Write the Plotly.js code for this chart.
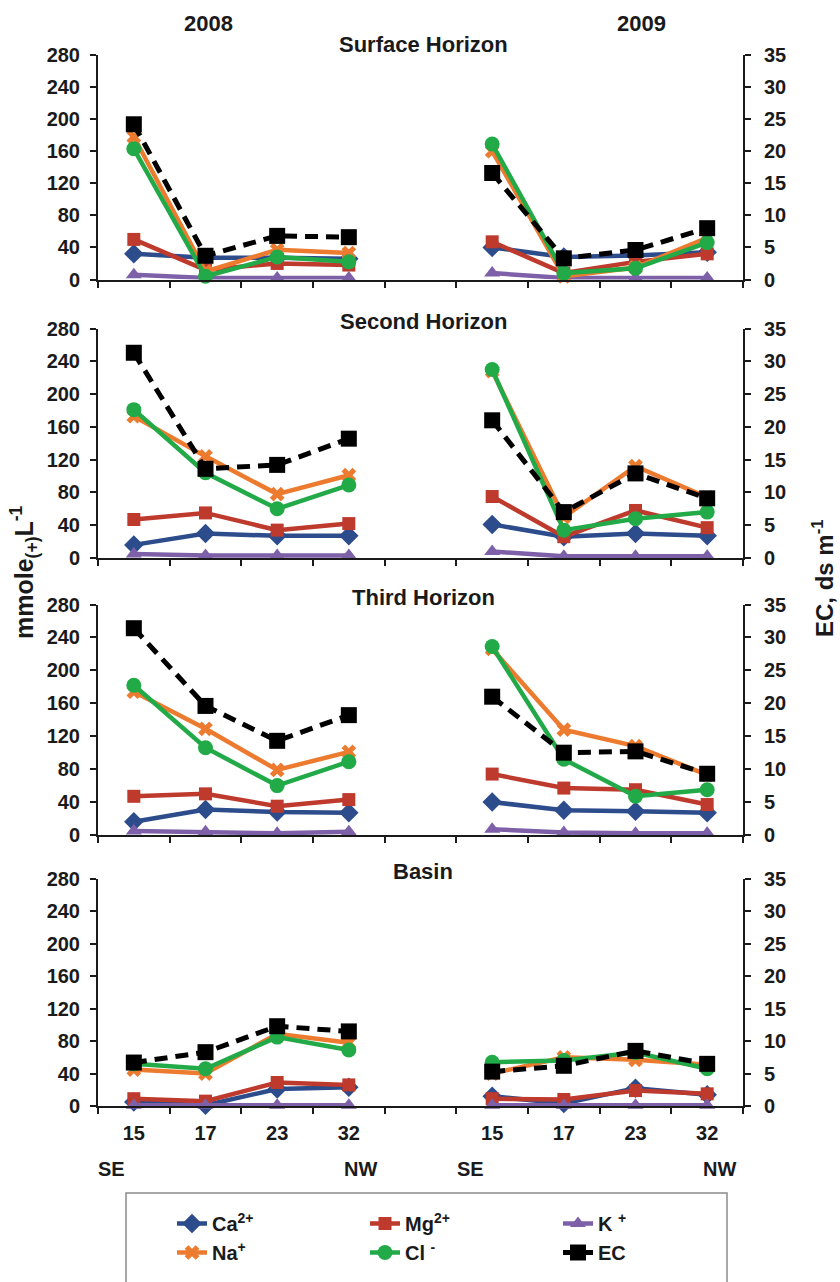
<!DOCTYPE html>
<html>
<head>
<meta charset="utf-8">
<script src="https://cdn.plot.ly/plotly-3.0.1.min.js"></script>
<style>html,body{margin:0;padding:0;background:#fff;}#chart{width:840px;height:1282px;}</style>
</head>
<body>
<div id="chart"></div>
<script>
// ---------------- DATA ----------------
const sites = ['15', '17', '23', '32'];
const years = ['2008', '2009'];
const horizons = ['Surface Horizon', 'Second Horizon', 'Third Horizon', 'Basin'];
const seriesNames = ['Ca<sup>2+</sup>', 'Mg<sup>2+</sup>', 'K <sup>+</sup>', 'Na<sup>+</sup>', 'Cl <sup>-</sup>', 'EC'];
const directionLabels = ['SE', 'NW'];

// values: 4 sites of 2008 followed by 4 sites of 2009 (ions in mmole(+)/L, EC in dS/m)
const caSurface = [32, 27, 27, 26, 40, 28, 30, 34];
const mgSurface = [50, 12, 20, 18, 47, 8, 22, 32];
const kSurface  = [6, 2, 2, 2, 8, 2, 2, 2];
const naSurface = [178, 10, 37, 33, 160, 4, 15, 52];
const clSurface = [163, 4, 28, 22, 169, 8, 14, 46];
const ecSurface = [24.2, 3.7, 6.8, 6.6, 16.6, 3.3, 4.6, 8.0];

const caSecond = [16, 30, 27, 27, 41, 26, 30, 27];
const mgSecond = [47, 55, 34, 42, 75, 26, 58, 37];
const kSecond  = [5, 3, 3, 3, 8, 2, 2, 2];
const naSecond = [173, 124, 78, 101, 228, 50, 112, 74];
const clSecond = [181, 104, 60, 89, 230, 34, 48, 56];
const ecSecond = [31.3, 13.6, 14.2, 18.2, 21.0, 7.0, 12.9, 9.1];

const caThird = [16, 31, 28, 27, 40, 30, 29, 27];
const mgThird = [47, 50, 35, 43, 74, 57, 55, 37];
const kThird  = [5, 4, 2, 4, 7, 3, 2, 2];
const naThird = [174, 129, 79, 101, 226, 128, 108, 73];
const clThird = [182, 106, 60, 89, 229, 92, 47, 55];
const ecThird = [31.4, 19.6, 14.3, 18.2, 21.0, 12.5, 12.7, 9.3];

const caBasin = [5, 1, 21, 23, 12, 3, 22, 14];
const mgBasin = [9, 6, 29, 26, 9, 8, 19, 15];
const kBasin  = [1, 1, 1, 1, 1, 1, 1, 1];
const naBasin = [45, 40, 89, 78, 40, 60, 57, 51];
const clBasin = [52, 46, 85, 69, 54, 56, 66, 46];
const ecBasin = [6.7, 8.3, 12.3, 11.5, 5.3, 6.2, 8.5, 6.5];

const ionTicks = [0, 40, 80, 120, 160, 200, 240, 280];
const ecTicks = [0, 5, 10, 15, 20, 25, 30, 35];

// ---------------- STYLE ----------------
const FONT = '"Liberation Sans", Arial, Helvetica, sans-serif';
const INK = '#1a1a1a';
const styles = [
  {color: '#2D4C8C', symbol: 'diamond', size: 15, dash: 'solid', width: 4.5},
  {color: '#BE3A2D', symbol: 'square', size: 13, dash: 'solid', width: 4.5},
  {color: '#7D60A8', symbol: 'triangle-up', size: 14, dash: 'solid', width: 4.5},
  {color: '#EC7B30', symbol: 'x', size: 13, dash: 'solid', width: 4.5},
  {color: '#22AA48', symbol: 'circle', size: 15, dash: 'solid', width: 4.5},
  {color: '#000000', symbol: 'square', size: 16, dash: '13px,8px', width: 5}
];

const panelSeries = [
  [caSurface, mgSurface, kSurface, naSurface, clSurface, ecSurface],
  [caSecond, mgSecond, kSecond, naSecond, clSecond, ecSecond],
  [caThird, mgThird, kThird, naThird, clThird, ecThird],
  [caBasin, mgBasin, kBasin, naBasin, clBasin, ecBasin]
];

const W = 840, H = 1282, PL = 98, PR = 743;
const panelPix = [[55, 279.5], [328.5, 558], [604.5, 835], [879, 1106]];
const py = y => 1 - y / H;
const px = x => (x - PL) / (PR - PL);

// category positions: 2008 sites 1..4, gap at 5, 2009 sites 6..9
const nCat = sites.length * years.length + 1;
const catX = [];
for (let i = 1; i <= nCat; i++) catX.push(i);
const siteX = [];
const siteText = [];
years.forEach((yr, yi) => sites.forEach((s, si) => { siteX.push(yi * (sites.length + 1) + si + 1); siteText.push(s); }));
const bounds = [];
for (let i = 0; i <= nCat; i++) bounds.push(i + 0.5);

function toY(vals) {
  const n = sites.length;
  return vals.slice(0, n).concat([null], vals.slice(n));
}
const id = (p, n) => (n === 1 ? p : p + n);
const key = (p, n) => (n === 1 ? p + 'axis' : p + 'axis' + n);

const traces = [];
const layout = {
  width: W, height: H,
  margin: {l: PL, r: W - PR, t: 0, b: 0, pad: 0},
  paper_bgcolor: '#fff', plot_bgcolor: 'rgba(0,0,0,0)',
  font: {family: FONT, size: 20, color: INK, weight: 'bold'},
  showlegend: true,
  annotations: [], shapes: []
};

const tickFont = {family: FONT, size: 20, color: INK, weight: 'bold'};
const titleFont = {family: FONT, size: 22, color: INK, weight: 'bold'};

panelSeries.forEach((series, p) => {
  const xi = p + 1, yl = p + 1, yr = p + 5, yli = p + 9, yri = p + 13, xin = p + 5;
  const dom = [py(panelPix[p][1]), py(panelPix[p][0])];
  const base = {showgrid: false, zeroline: false, fixedrange: true};
  layout[key('x', xi)] = Object.assign({}, base, {
    domain: [0, 1], range: [0.5, nCat + 0.5], anchor: id('y', yl),
    showline: true, linecolor: INK, linewidth: 2,
    tickmode: 'array', tickvals: bounds, ticks: 'outside', ticklen: 6, tickwidth: 2, tickcolor: INK,
    showticklabels: false
  });
  layout[key('x', xin)] = Object.assign({}, base, {
    overlaying: id('x', xi), range: [0.5, nCat + 0.5], anchor: id('y', yl),
    showline: false, tickmode: 'array', tickvals: bounds, ticks: 'inside', ticklen: 6, tickwidth: 2, tickcolor: INK,
    showticklabels: false
  });
  layout[key('y', yl)] = Object.assign({}, base, {
    domain: dom, range: [0, 280], anchor: id('x', xi), side: 'left',
    showline: true, linecolor: INK, linewidth: 2,
    tickmode: 'array', tickvals: ionTicks, ticktext: ionTicks.map(String),
    ticks: 'outside', ticklen: 6, tickwidth: 2, tickcolor: INK,
    tickfont: tickFont, ticklabelstandoff: 6
  });
  layout[key('y', yli)] = Object.assign({}, base, {
    overlaying: id('y', yl), range: [0, 280], anchor: id('x', xi), side: 'left',
    showline: false, tickmode: 'array', tickvals: ionTicks,
    ticks: 'inside', ticklen: 6, tickwidth: 2, tickcolor: INK, showticklabels: false
  });
  layout[key('y', yr)] = Object.assign({}, base, {
    overlaying: id('y', yl), range: [0, 35], anchor: id('x', xi), side: 'right',
    showline: true, linecolor: INK, linewidth: 2,
    tickmode: 'array', tickvals: ecTicks, ticktext: ecTicks.map(String),
    ticks: 'outside', ticklen: 6, tickwidth: 2, tickcolor: INK,
    tickfont: tickFont, ticklabelstandoff: 9
  });
  layout[key('y', yri)] = Object.assign({}, base, {
    overlaying: id('y', yl), range: [0, 35], anchor: id('x', xi), side: 'right',
    showline: false, tickmode: 'array', tickvals: ecTicks,
    ticks: 'inside', ticklen: 6, tickwidth: 2, tickcolor: INK, showticklabels: false
  });

  series.forEach((vals, s) => {
    const st = styles[s];
    const isEC = s === series.length - 1;
    traces.push({
      type: 'scatter', mode: 'lines+markers',
      name: seriesNames[s], legendgroup: 's' + s, showlegend: p === 0,
      x: catX, y: toY(vals),
      xaxis: id('x', xi), yaxis: isEC ? id('y', yr) : id('y', yl),
      connectgaps: false, cliponaxis: false,
      line: {color: st.color, width: st.width, dash: st.dash},
      marker: {symbol: st.symbol, size: st.size, color: st.color, line: {width: 0}},
      hoverinfo: 'skip'
    });
  });

  layout.annotations.push({
    xref: 'paper', yref: 'paper', x: px(423), y: py([44, 322, 597, 871][p]),
    xanchor: 'center', yanchor: 'middle', showarrow: false,
    text: horizons[p], font: titleFont
  });
});

// site labels on the bottom panel
layout[key('x', 9)] = {
  overlaying: 'x4', anchor: 'y4', range: [0.5, nCat + 0.5], showgrid: false, zeroline: false, showline: false,
  tickmode: 'array', tickvals: siteX, ticktext: siteText, ticks: '', tickfont: tickFont, ticklabelstandoff: 13,
  fixedrange: true
};
// invisible trace so the label axis is rendered
traces.push({type: 'scatter', x: [1], y: [0], xaxis: 'x9', yaxis: 'y4', mode: 'markers',
  marker: {opacity: 0}, showlegend: false, hoverinfo: 'skip'});

// year headers
years.forEach((yr, i) => {
  layout.annotations.push({xref: 'paper', yref: 'paper', x: px([208, 641][i]), y: py(23),
    xanchor: 'center', yanchor: 'middle', showarrow: false, text: yr, font: titleFont});
});
// SE / NW labels
years.forEach((yr, i) => {
  const first = i * (sites.length + 1) + 1;
  const last = first + sites.length - 1;
  layout.annotations.push({xref: 'x4', yref: 'paper', x: first, xshift: -22, y: py(1169),
    xanchor: 'center', yanchor: 'middle', showarrow: false, text: directionLabels[0], font: tickFont});
  layout.annotations.push({xref: 'x4', yref: 'paper', x: last, xshift: 12, y: py(1169),
    xanchor: 'center', yanchor: 'middle', showarrow: false, text: directionLabels[1], font: tickFont});
});
// axis titles
layout.annotations.push({xref: 'paper', yref: 'paper', x: px(24), y: py(572), textangle: -90,
  xanchor: 'center', yanchor: 'middle', showarrow: false, text: 'mmole<sub>(+)</sub>L<sup>-1</sup>',
  font: {family: FONT, size: 25, color: INK, weight: 'bold'}});
layout.annotations.push({xref: 'paper', yref: 'paper', x: px(823), y: py(578), textangle: -90,
  xanchor: 'center', yanchor: 'middle', showarrow: false, text: 'EC, ds m<sup>-1</sup>',
  font: {family: FONT, size: 24, color: INK, weight: 'bold'}});

// legend
layout.legend = {
  orientation: 'h', x: px(172), xanchor: 'left', y: py(1204), yanchor: 'top',
  entrywidth: 148, entrywidthmode: 'pixels', bgcolor: 'rgba(0,0,0,0)', borderwidth: 0,
  font: {family: FONT, size: 20, color: INK, weight: 'bold'}, traceorder: 'normal'
};
layout.shapes.push({type: 'rect', xref: 'paper', yref: 'paper', x0: px(126), x1: px(727),
  y0: py(1295), y1: py(1193), line: {color: '#8a8a8a', width: 1.5}, fillcolor: 'rgba(0,0,0,0)'});

Plotly.newPlot('chart', traces, layout, {staticPlot: true, displayModeBar: false});
</script>
</body>
</html>
